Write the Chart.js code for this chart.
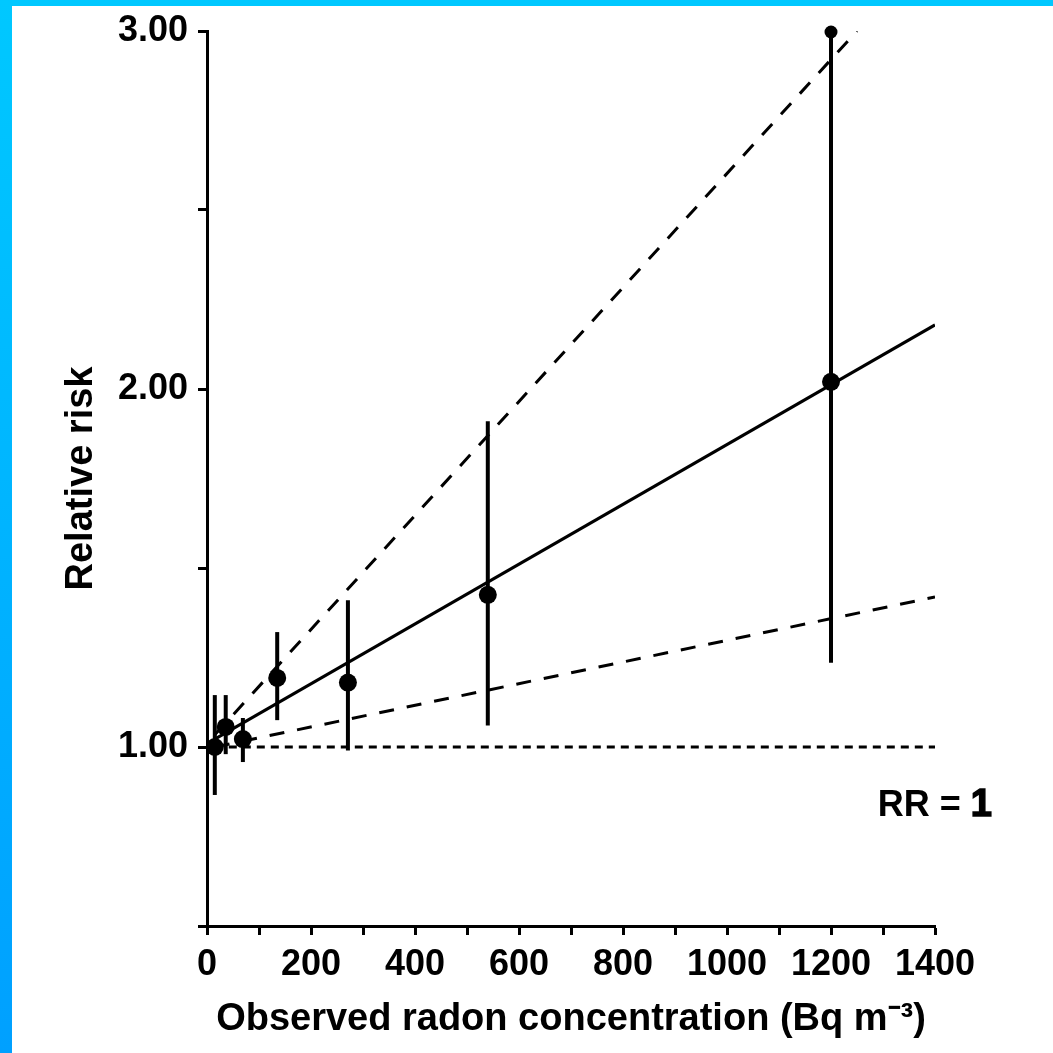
<!DOCTYPE html>
<html>
<head>
<meta charset="utf-8">
<script src="https://cdn.jsdelivr.net/npm/chart.js@4/dist/chart.umd.min.js"></script>
<style>
body { margin: 0; width: 1053px; height: 1053px; overflow: hidden; position: relative;
       background: linear-gradient(to bottom, #00c8ff, #00a0ff); }
#wrap { position: absolute; left: 12px; top: 6px; width: 1041px; height: 1047px; background: #fff; }
</style>
</head>
<body>
<div id="wrap"><canvas id="risk-chart" width="1041" height="1047"></canvas></div>
<script>
// observed points with 95% CI
var radon = [15, 36, 69, 135, 271, 540, 1200];
var relRisk = [1.00, 1.056, 1.022, 1.193, 1.18, 1.425, 2.02];
var ciLow = [0.866, 0.98, 0.958, 1.075, 0.99, 1.06, 1.235];
var ciHigh = [1.145, 1.145, 1.081, 1.321, 1.41, 1.91, 3.00];

// fitted line and its confidence limits (end points)
var fitX = [15, 1400];
var fitY = [1.022, 2.179];
var upperX = [15, 1250];
var upperY = [1.034, 3.00];
var lowerX = [15, 1400];
var lowerY = [1.00, 1.419];
var refX = [15, 1400];
var refY = [1.00, 1.00];

var yLabelValues = [1, 2, 3];
var xLabelStep = 200;

function pairs(xs, ys) {
    var out = [];
    for (var i = 0; i < xs.length; i++) out.push({ x: xs[i], y: ys[i] });
    return out;
}

function lineSet(xs, ys, dash) {
    return {
        data: pairs(xs, ys),
        showLine: true,
        borderColor: '#000',
        borderWidth: 3,
        borderDash: dash,
        pointRadius: 0,
        pointHoverRadius: 0
    };
}

var errorBars = {
    id: 'errorBars',
    beforeDatasetsDraw: function (chart) {
        var ctx = chart.ctx;
        var xs = chart.scales.x, ys = chart.scales.y;
        ctx.save();
        ctx.strokeStyle = '#000';
        ctx.fillStyle = '#000';
        ctx.lineWidth = 4;
        for (var i = 0; i < radon.length; i++) {
            var px = xs.getPixelForValue(radon[i]);
            var top = ys.getPixelForValue(ciHigh[i]);
            ctx.beginPath();
            ctx.moveTo(px, ys.getPixelForValue(ciLow[i]));
            ctx.lineTo(px, top);
            ctx.stroke();
            if (ciHigh[i] >= ys.max) {
                ctx.beginPath();
                ctx.arc(px, top + 1, 6.5, 0, Math.PI * 2);
                ctx.fill();
            }
        }
        ctx.restore();
    },
    afterDraw: function (chart) {
        var ctx = chart.ctx;
        var xs = chart.scales.x, ys = chart.scales.y;
        var right = xs.getPixelForValue(1400) + 57;
        var base = ys.getPixelForValue(0.807);
        ctx.save();
        ctx.fillStyle = '#000';
        ctx.textBaseline = 'alphabetic';
        ctx.textAlign = 'right';
        ctx.font = 'bold 38px "Liberation Sans", Arial, sans-serif';
        ctx.strokeStyle = '#000';
        ctx.lineWidth = 1.5;
        ctx.fillText('1', right, base);
        ctx.strokeText('1', right, base);
        var w = ctx.measureText('1').width;
        ctx.font = 'bold 36px "Liberation Sans", Arial, sans-serif';
        ctx.fillText('RR = ', right - w, base);
        ctx.restore();
    }
};

var tickFont = { family: '"Liberation Sans", Arial, sans-serif', size: 36, weight: 'bold' };
var titleFont = { family: '"Liberation Sans", Arial, sans-serif', size: 38, weight: 'bold' };

var config = {
    type: 'scatter',
    data: {
        datasets: [
            lineSet(refX, refY, [8, 6]),
            lineSet(lowerX, lowerY, [15, 13]),
            lineSet(upperX, upperY, [15, 13]),
            lineSet(fitX, fitY, []),
            {
                data: pairs(radon, relRisk),
                pointRadius: 9,
                pointHoverRadius: 9,
                pointBackgroundColor: '#000',
                pointBorderWidth: 0,
                showLine: false
            }
        ]
    },
    options: {
        responsive: false,
        animation: false,
        devicePixelRatio: 1,
        layout: { padding: { top: 25, right: 118, left: 0, bottom: 0 } },
        plugins: { legend: { display: false }, tooltip: { enabled: false } },
        scales: {
            x: {
                type: 'linear',
                min: 0,
                max: 1400,
                afterFit: function (scale) {
                    scale.height = 127;
                    scale.paddingLeft = 0;
                    scale.paddingRight = 0;
                },
                border: { display: true, color: '#000', width: 3 },
                grid: { drawOnChartArea: false, drawTicks: true, tickLength: 9, tickColor: '#000', tickWidth: 3 },
                ticks: {
                    stepSize: 100,
                    autoSkip: false,
                    maxRotation: 0,
                    padding: 8,
                    color: '#000',
                    font: tickFont,
                    callback: function (v) { return v % xLabelStep === 0 ? String(v) : ''; }
                },
                title: {
                    display: true,
                    text: 'Observed radon concentration (Bq m\u207B\u00B3)',
                    color: '#000',
                    font: titleFont,
                    padding: { top: 0, bottom: 11 }
                }
            },
            y: {
                type: 'linear',
                min: 0.5,
                max: 3,
                afterFit: function (scale) {
                    scale.width = 195;
                    scale.paddingTop = 0;
                    scale.paddingBottom = 0;
                },
                border: { display: true, color: '#000', width: 3 },
                grid: { drawOnChartArea: false, drawTicks: true, tickLength: 9, tickColor: '#000', tickWidth: 3 },
                ticks: {
                    stepSize: 0.5,
                    autoSkip: false,
                    padding: 10,
                    color: '#000',
                    font: tickFont,
                    callback: function (v) { return yLabelValues.indexOf(v) >= 0 ? v.toFixed(2) : ''; }
                },
                title: {
                    display: true,
                    text: 'Relative risk',
                    color: '#000',
                    font: titleFont,
                    padding: { top: 47, bottom: 0 }
                }
            }
        }
    },
    plugins: [errorBars]
};

var riskContext = document.getElementById('risk-chart').getContext('2d');
window.riskChart = new Chart(riskContext, config);
</script>
</body>
</html>
